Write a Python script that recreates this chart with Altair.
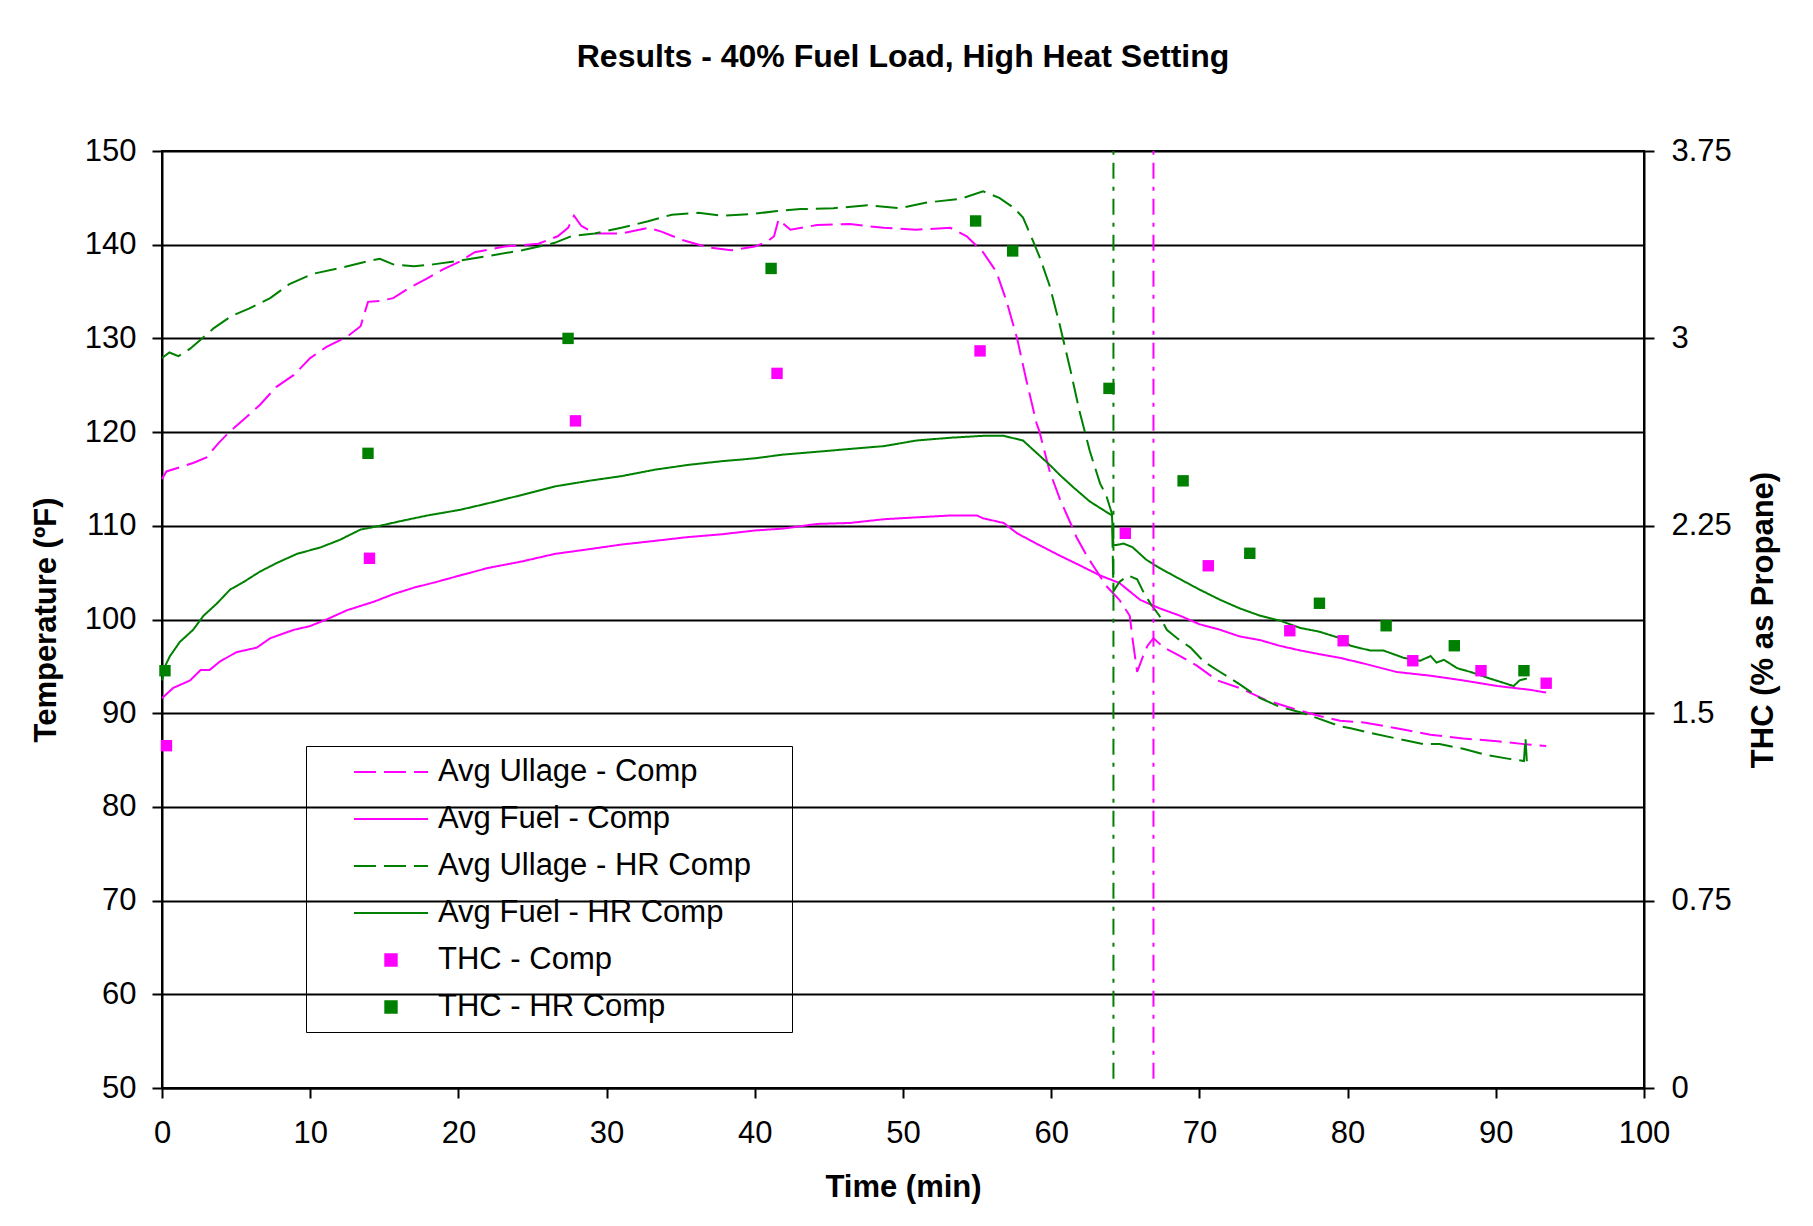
import altair as alt
import pandas as pd

FONT = "Liberation Sans"
MAGENTA = "#FF00FF"
GREEN = "#008000"

SERIES = ["Avg Ullage - Comp", "Avg Fuel - Comp", "Avg Ullage - HR Comp",
          "Avg Fuel - HR Comp", "THC - Comp", "THC - HR Comp"]
SERIES_COLORS = [MAGENTA, MAGENTA, GREEN, GREEN, MAGENTA, GREEN]

# ---- Avg Ullage - Comp (temperature, F)
t_ullage_comp = [0, 0.3, 2.1, 3.0, 3.8, 4.6, 5.7, 6.6, 7.7, 8.9, 10.0, 11.1, 12.5, 13.4, 13.9,
                 14.7, 15.6, 16.7, 17.9, 19.0, 20.1, 21.1, 23.1, 25.4, 26.7, 27.4, 27.8, 28.3,
                 29.2, 31.0, 32.8, 33.7, 35.1, 36.9, 38.4, 40.0, 40.8, 41.3, 41.6, 42.4, 44.2,
                 46.4, 48.7, 50.9, 53.2, 54.3, 55.4, 56.3, 57.0, 57.7, 58.3, 59.0, 59.2, 59.9,
                 60.6, 61.3, 61.7, 62.4, 63.1, 63.7, 64.6, 65.3, 65.5, 65.8, 66.2, 66.5, 66.9,
                 67.6, 68.7, 69.8, 71.2, 72.7, 74.5, 76.3, 78.1, 79.5, 81.1, 83.3, 85.6, 87.8,
                 90.1, 91.9, 93.4]
v_ullage_comp = [115.0, 115.8, 116.7, 117.3, 118.8, 120.1, 121.6, 122.9, 124.8, 126.1, 127.9,
                 129.1, 130.2, 131.3, 133.9, 134.0, 134.3, 135.4, 136.4, 137.4, 138.2, 139.2,
                 139.8, 140.1, 140.9, 141.8, 143.1, 142.0, 141.2, 141.2, 141.8, 141.4, 140.5,
                 139.7, 139.4, 139.8, 140.3, 140.9, 142.7, 141.6, 142.1, 142.2, 141.8, 141.6,
                 141.8, 140.9, 139.2, 137.1, 133.9, 130.0, 125.7, 121.0, 120.1, 115.8, 112.8,
                 110.3, 108.8, 106.8, 105.1, 103.6, 102.1, 100.4, 97.8, 94.4, 96.1, 97.2, 98.0,
                 97.0, 96.1, 95.1, 93.5, 92.7, 91.4, 90.5, 89.7, 89.2, 89.0, 88.4, 87.7, 87.3,
                 87.0, 86.7, 86.5]

# ---- Avg Fuel - Comp
t_fuel_comp = [0, 0.76, 1.9, 2.6, 3.2, 3.9, 5.0, 6.4, 7.3, 8.9, 10.0, 11.1, 12.5, 14.3, 15.6,
               17.0, 18.5, 20.1, 22.0, 24.3, 26.5, 28.8, 31.0, 33.3, 35.5, 37.8, 40.0, 41.9,
               44.2, 46.4, 48.7, 50.9, 53.2, 55.0, 55.4, 56.8, 57.7, 59.0, 60.6, 61.9, 63.3,
               64.6, 66.0, 67.3, 68.7, 70.0, 71.4, 72.7, 74.1, 75.4, 76.8, 78.1, 79.5, 81.1,
               83.3, 85.6, 87.8, 90.1, 92.3, 93.4]
v_fuel_comp = [91.6, 92.7, 93.5, 94.6, 94.6, 95.5, 96.5, 97.0, 98.0, 98.9, 99.3, 100.0, 101.0,
               101.9, 102.7, 103.4, 104.0, 104.7, 105.5, 106.2, 107.0, 107.5, 108.0, 108.4,
               108.8, 109.1, 109.5, 109.7, 110.2, 110.3, 110.7, 110.9, 111.1, 111.1, 110.8,
               110.3, 109.2, 108.1, 106.8, 105.8, 104.7, 103.9, 102.1, 101.2, 100.4, 99.5,
               98.9, 98.2, 97.8, 97.2, 96.7, 96.3, 95.9, 95.3, 94.4, 94.0, 93.5, 92.9, 92.5,
               92.2]

# ---- Avg Ullage - HR Comp
t_ullage_hr = [0, 0.5, 1.1, 1.9, 2.7, 3.5, 4.7, 5.9, 7.3, 8.6, 10.2, 12.0, 13.8, 14.7, 15.6,
               17.0, 18.3, 20.1, 22.0, 24.3, 26.5, 27.6, 29.2, 31.0, 32.8, 34.4, 36.2, 37.8,
               40.0, 41.5, 43.1, 45.3, 47.6, 49.8, 51.6, 53.9, 55.4, 56.5, 57.5, 58.1, 58.8,
               59.24, 59.9, 60.6, 61.3, 61.9, 62.6, 63.3, 63.7, 64.1, 64.2, 64.6, 65.2, 65.8,
               66.2, 66.7, 67.3, 67.8, 68.5, 69.4, 70.3, 71.4, 72.7, 74.1, 75.4, 76.8, 78.1,
               79.5, 80.2, 81.5, 83.3, 85.1, 86.2, 87.8, 89.2, 91.0, 91.9, 92.0, 92.1]
v_ullage_hr = [127.9, 128.5, 128.1, 128.9, 130.0, 131.1, 132.4, 133.2, 134.3, 135.8, 136.9,
               137.5, 138.2, 138.5, 137.9, 137.7, 137.9, 138.3, 138.8, 139.4, 140.2, 140.9,
               141.2, 141.8, 142.5, 143.2, 143.4, 143.1, 143.3, 143.6, 143.8, 143.9, 144.2,
               143.9, 144.5, 144.9, 145.7, 145.0, 143.9, 142.9, 140.3, 138.6, 135.6, 131.3,
               126.6, 122.3, 118.0, 114.5, 113.3, 111.3, 103.0, 104.0, 104.7, 104.3, 103.0,
               101.7, 100.4, 98.9, 98.0, 97.0, 95.5, 94.4, 93.1, 91.6, 90.7, 90.1, 89.4, 88.6,
               88.4, 87.9, 87.3, 86.7, 86.7, 86.2, 85.6, 85.1, 84.9, 87.4, 84.7]

# ---- Avg Fuel - HR Comp
t_fuel_hr = [0, 0.2, 0.54, 1.2, 2.1, 2.8, 3.7, 4.6, 5.5, 6.6, 7.7, 9.1, 10.7, 12.0, 13.4, 14.7,
             16.1, 17.9, 20.1, 22.0, 24.3, 26.5, 28.8, 31.0, 33.3, 35.5, 37.8, 40.0, 41.9, 44.2,
             46.4, 48.7, 50.9, 53.2, 55.4, 56.8, 58.1, 59.0, 59.9, 60.6, 61.5, 62.6, 63.7, 64.1,
             64.2, 64.9, 65.5, 66.4, 67.3, 68.7, 70.0, 71.4, 72.7, 74.1, 75.4, 76.8, 78.1, 79.5,
             80.2, 81.5, 82.4, 83.8, 84.9, 85.6, 86.0, 86.5, 87.4, 88.3, 89.6, 91.2, 91.6, 92.1]
v_fuel_hr = [93.5, 95.0, 96.1, 97.6, 98.9, 100.4, 101.7, 103.2, 104.0, 105.1, 106.0, 107.0,
             107.7, 108.5, 109.6, 110.0, 110.5, 111.1, 111.7, 112.4, 113.3, 114.2, 114.8, 115.3,
             116.0, 116.5, 116.9, 117.2, 117.6, 117.9, 118.2, 118.5, 119.1, 119.4, 119.6, 119.6,
             119.1, 117.8, 116.5, 115.4, 114.1, 112.6, 111.5, 111.1, 107.9, 108.1, 107.7, 106.4,
             105.5, 104.3, 103.2, 102.1, 101.2, 100.4, 99.9, 99.1, 98.7, 98.0, 97.2, 96.7, 96.7,
             95.9, 95.6, 96.1, 95.4, 95.7, 94.8, 94.4, 93.7, 92.9, 93.5, 93.7]

# ---- THC (% as propane), right axis
t_thc_comp = [0.3, 14.0, 27.9, 41.5, 55.2, 65.0, 70.6, 76.1, 79.7, 84.4, 89.0, 93.4]
v_thc_comp = [1.37, 2.12, 2.67, 2.86, 2.95, 2.22, 2.09, 1.83, 1.79, 1.71, 1.67, 1.62]
t_thc_hr = [0.2, 13.9, 27.4, 41.1, 54.9, 57.4, 63.9, 68.9, 73.4, 78.1, 82.6, 87.2, 91.9]
v_thc_hr = [1.67, 2.54, 3.00, 3.28, 3.47, 3.35, 2.80, 2.43, 2.14, 1.94, 1.85, 1.77, 1.67]

# ---- vertical markers (time, min)
t_marker_hr = [64.2]
t_marker_comp = [66.9]

x_ticks = [0, 10, 20, 30, 40, 50, 60, 70, 80, 90, 100]
y_ticks = [50, 60, 70, 80, 90, 100, 110, 120, 130, 140, 150]
y2_ticks = [0, 0.75, 1.5, 2.25, 3, 3.75]

rows = []
for name, ts, vs in [(SERIES[0], t_ullage_comp, v_ullage_comp),
                     (SERIES[1], t_fuel_comp, v_fuel_comp),
                     (SERIES[2], t_ullage_hr, v_ullage_hr),
                     (SERIES[3], t_fuel_hr, v_fuel_hr)]:
    rows += [{"series": name, "t": a, "temp": b} for a, b in zip(ts, vs)]
lines_df = pd.DataFrame(rows)

prow = []
for name, ts, vs in [(SERIES[4], t_thc_comp, v_thc_comp), (SERIES[5], t_thc_hr, v_thc_hr)]:
    prow += [{"series": name, "t": a, "thc": b} for a, b in zip(ts, vs)]
points_df = pd.DataFrame(prow)

W, H = 1482, 937
SYM = 900  # symbol area -> 30 px box, 1 path unit = 15 px
# legend line swatch: 74 px long; trailing move-to widens the legend box
LINE_PATH = "M-2.47,0H2.47M25.8,0"
SQUARE_PATH = "M-0.38,-0.38H0.38V0.38H-0.38Z"

color_scale = alt.Scale(domain=SERIES, range=SERIES_COLORS)
dash_scale = alt.Scale(domain=SERIES, range=[[22, 8], [1, 0], [22, 8], [1, 0], [1, 0], [1, 0]])
shape_scale = alt.Scale(domain=SERIES, range=[LINE_PATH] * 4 + [SQUARE_PATH] * 2)

legend = alt.Legend(
    orient="none", legendX=144, legendY=595, title=None,
    labelFont=FONT, labelFontSize=31, labelColor="black", labelLimit=800,
    labelOffset=31, symbolOffset=59, padding=10, rowPadding=16,
    symbolSize=SYM, strokeColor="black", symbolStrokeWidth=2,
)

x_enc = alt.X("t:Q", scale=alt.Scale(domain=[0, 100], nice=False),
              axis=alt.Axis(values=x_ticks, grid=False, title="Time (min)",
                            labelFlush=False, tickSize=10, labelPadding=35,
                            labelBaseline="middle", titleX=W / 2, titleY=99,
                            titleBaseline="middle", titleAnchor="middle"))

lines = alt.Chart(lines_df).mark_line(strokeWidth=2).encode(
    x=x_enc,
    y=alt.Y("temp:Q", scale=alt.Scale(domain=[50, 150], nice=False),
            axis=alt.Axis(values=y_ticks, grid=True, gridColor="black", gridWidth=2,
                          title="Temperature (ºF)", labelFlush=False, tickSize=10,
                          labelPadding=16, titleAngle=270, titleX=-116, titleY=H / 2,
                          titleBaseline="middle", titleAlign="center")),
    color=alt.Color("series:N", scale=color_scale, legend=legend),
    strokeDash=alt.StrokeDash("series:N", scale=dash_scale, legend=legend),
)

rule_hr = alt.Chart(pd.DataFrame({"t": t_marker_hr})).mark_rule(
    color=GREEN, strokeWidth=2, strokeDash=[16, 8, 4, 8]
).encode(x="t:Q", y=alt.datum(51), y2=alt.datum(150))

rule_comp = alt.Chart(pd.DataFrame({"t": t_marker_comp})).mark_rule(
    color=MAGENTA, strokeWidth=2, strokeDash=[16, 8, 4, 8]
).encode(x="t:Q", y=alt.datum(51), y2=alt.datum(150))

points = alt.Chart(points_df).mark_point(filled=True, opacity=1, size=SYM, strokeWidth=0).encode(
    x="t:Q",
    y=alt.Y("thc:Q", scale=alt.Scale(domain=[0, 3.75], nice=False),
            axis=alt.Axis(orient="right", values=y2_ticks, labelExpr="'' + datum.value",
                          grid=False, title="THC (% as Propane)", labelFlush=False,
                          tickSize=10, labelPadding=17, titleAngle=270, titleX=119,
                          titleY=H / 2, titleBaseline="middle", titleAlign="center")),
    color=alt.Color("series:N", scale=color_scale, legend=legend),
    shape=alt.Shape("series:N", scale=shape_scale, legend=legend),
)

left = alt.layer(lines, rule_hr, rule_comp)
chart = alt.layer(left, points).resolve_scale(y="independent").properties(
    width=W, height=H,
    background="white",
    autosize=alt.AutoSizeParams(type="none"),
    padding={"left": 154, "top": 143, "right": 150, "bottom": 125},
    title=alt.Title("Results - 40% Fuel Load, High Heat Setting", font=FONT, fontSize=32,
                    fontWeight="bold", color="black", anchor="middle", offset=61),
).configure_view(stroke="black", strokeWidth=2).configure_axis(
    labelFont=FONT, labelFontSize=31, labelColor="black",
    titleFont=FONT, titleFontSize=31, titleFontWeight="bold", titleColor="black",
    domainColor="black", domainWidth=2, tickColor="black", tickWidth=2,
)

chart.save("out.html", embed_options={"renderer": "svg", "actions": False})
